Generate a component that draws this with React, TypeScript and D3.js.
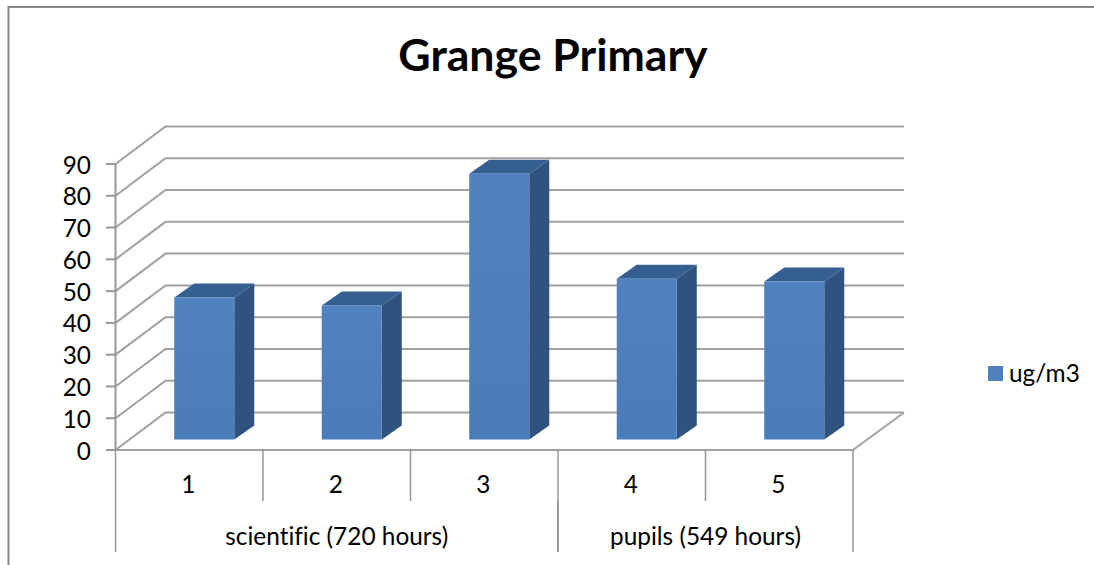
import React from 'react';
import * as d3 from 'd3';

const title = 'Grange Primary';
const categories = ['1', '2', '3', '4', '5'];
const values = [44.7, 42.2, 83.6, 50.6, 49.7];
const groups = [
  { label: 'scientific (720 hours)', from: 0, to: 3 },
  { label: 'pupils (549 hours)', from: 3, to: 5 },
];
const yTicks = [0, 10, 20, 30, 40, 50, 60, 70, 80, 90];
const seriesName = 'ug/m3';

const FONT = 'Lato, "Open Sans", sans-serif';
const GRID = '#a0a0a0';
const AXIS = '#979797';
const TEXT_SIZE = 24.4;

// depth of the fake 3d box
const DEPTH_X = 50;
const DEPTH_Y = -37.5;
const BAR_DX = 20;
const BAR_DY = -14;

const App = () => {
  const x = d3.scaleLinear().domain([0, 5]).range([115.5, 853]);
  const y = d3.scaleLinear().domain([0, 90]).range([450, 164]);
  // bars stand a little behind the front edge of the floor
  const yBar = d3.scaleLinear().domain([0, 90]).range([439.5, 153.5]);
  const band = d3.scaleBand<string>().domain(categories).range([130.5, 868]).paddingInner(0.593).paddingOuter(0.2965);
  const line = d3.line();
  const textStyle = { fontVariantLigatures: 'none' as const };

  return (
    <svg width={1094} height={565} style={{ position: 'absolute', left: 0, top: 0, background: '#fff' }}>
      <defs>
        <linearGradient id="front" x1="0" x2="0" y1="0" y2="1">
          <stop offset="0" stopColor="#5082bf" />
          <stop offset="1" stopColor="#4a7cb9" />
        </linearGradient>
      </defs>

      {/* outer frame, only top and left are in the crop */}
      <path d={line([[8.5, 565], [8.5, 7], [1094, 7]]) ?? ''} fill="none" stroke="#868686" strokeWidth={2} />

      <text x={553} y={71} textAnchor="middle" fontFamily={FONT} fontWeight={700} fontSize={44.6} fill="#000">
        {title}
      </text>

      {/* back wall + side wall gridlines */}
      {yTicks.map((t) => (
        <g key={t}>
          <path
            d={line([[x(0), y(t)], [x(0) + DEPTH_X, y(t) + DEPTH_Y], [904, y(t) + DEPTH_Y]]) ?? ''}
            fill="none" stroke={GRID} strokeWidth={2}
          />
          <line x1={106} x2={x(0)} y1={y(t)} y2={y(t)} stroke={AXIS} strokeWidth={2} />
          <text x={91} y={y(t) + 9.5} textAnchor="end" fontFamily={FONT} fontSize={TEXT_SIZE} fill="#000">{t}</text>
        </g>
      ))}

      {/* floor */}
      <path d={line([[x(5), y(0)], [904, y(0) + DEPTH_Y]]) ?? ''} stroke={GRID} strokeWidth={2} fill="none" />
      <line x1={x(0)} x2={x(0)} y1={y(90)} y2={y(0)} stroke={AXIS} strokeWidth={2} />
      <line x1={x(0)} x2={x(5)} y1={y(0)} y2={y(0)} stroke={GRID} strokeWidth={2} />

      {/* category ticks */}
      {d3.range(0, 6).map((i) => (
        <line key={i} x1={x(i)} x2={x(i)} y1={y(0)} y2={501} stroke={AXIS} strokeWidth={1.5} />
      ))}
      {categories.map((c, i) => (
        <text key={c} x={x(i + 0.5) - 1} y={493} textAnchor="middle" fontFamily={FONT} fontSize={TEXT_SIZE} fill="#000">{c}</text>
      ))}

      {/* group level */}
      {groups.map((g) => (
        <g key={g.label}>
          <line x1={x(g.from)} x2={x(g.from)} y1={501} y2={552} stroke={AXIS} strokeWidth={1.5} />
          <line x1={x(g.to)} x2={x(g.to)} y1={501} y2={552} stroke={AXIS} strokeWidth={1.5} />
          <text x={(x(g.from) + x(g.to)) / 2} y={545} textAnchor="middle" fontFamily={FONT} fontSize={TEXT_SIZE} fill="#000" style={textStyle}>
            {g.label}
          </text>
        </g>
      ))}

      {/* bars */}
      {values.map((v, i) => {
        const x0 = band(categories[i]) ?? 0;
        const x1 = x0 + band.bandwidth();
        const top = yBar(v);
        const bot = yBar(0);
        return (
          <g key={categories[i]}>
            <path
              d={(line([[x1, top], [x1 + BAR_DX, top + BAR_DY], [x1 + BAR_DX, bot + BAR_DY], [x1, bot]]) ?? '') + 'Z'}
              fill="#2f527f"
            />
            <path
              d={(line([[x0, top], [x0 + BAR_DX, top + BAR_DY], [x1 + BAR_DX, top + BAR_DY], [x1, top]]) ?? '') + 'Z'}
              fill="#365f91"
            />
            <rect x={x0} y={top} width={x1 - x0} height={bot - top} fill="url(#front)" />
          </g>
        );
      })}

      {/* legend */}
      <rect x={988} y={366} width={15} height={15} fill="#4f81bd" />
      <text x={1009} y={382} fontFamily={FONT} fontSize={TEXT_SIZE} fill="#000">{seriesName}</text>
    </svg>
  );
};

export default App;
